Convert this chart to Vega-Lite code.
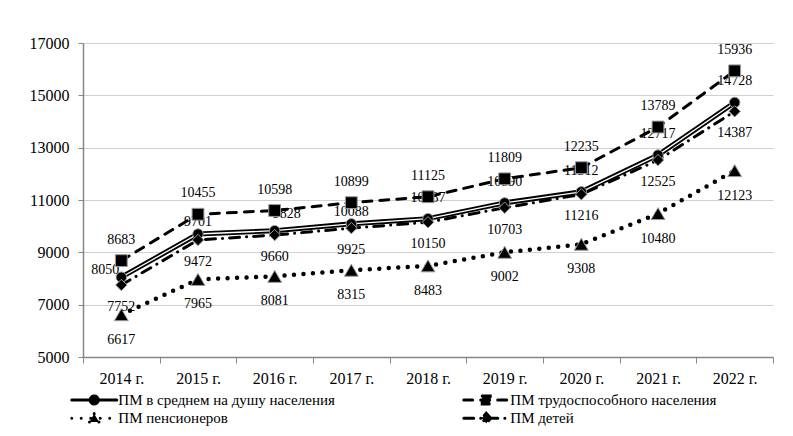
{
  "$schema": "https://vega.github.io/schema/vega-lite/v6.json",
  "width": 690,
  "height": 314,
  "autosize": {"type": "none"},
  "padding": {"left": 83, "top": 43, "right": 20, "bottom": 79},
  "config": {"view": {"stroke": null}, "font": "Liberation Serif"},
  "data": {"values": [
    {"year": "2014 г.", "series": "ПМ в среднем на душу населения", "value": 8050},
    {"year": "2015 г.", "series": "ПМ в среднем на душу населения", "value": 9701},
    {"year": "2016 г.", "series": "ПМ в среднем на душу населения", "value": 9828},
    {"year": "2017 г.", "series": "ПМ в среднем на душу населения", "value": 10088},
    {"year": "2018 г.", "series": "ПМ в среднем на душу населения", "value": 10287},
    {"year": "2019 г.", "series": "ПМ в среднем на душу населения", "value": 10890},
    {"year": "2020 г.", "series": "ПМ в среднем на душу населения", "value": 11312},
    {"year": "2021 г.", "series": "ПМ в среднем на душу населения", "value": 12717},
    {"year": "2022 г.", "series": "ПМ в среднем на душу населения", "value": 14728},
    {"year": "2014 г.", "series": "ПМ трудоспособного населения", "value": 8683},
    {"year": "2015 г.", "series": "ПМ трудоспособного населения", "value": 10455},
    {"year": "2016 г.", "series": "ПМ трудоспособного населения", "value": 10598},
    {"year": "2017 г.", "series": "ПМ трудоспособного населения", "value": 10899},
    {"year": "2018 г.", "series": "ПМ трудоспособного населения", "value": 11125},
    {"year": "2019 г.", "series": "ПМ трудоспособного населения", "value": 11809},
    {"year": "2020 г.", "series": "ПМ трудоспособного населения", "value": 12235},
    {"year": "2021 г.", "series": "ПМ трудоспособного населения", "value": 13789},
    {"year": "2022 г.", "series": "ПМ трудоспособного населения", "value": 15936},
    {"year": "2014 г.", "series": "ПМ пенсионеров", "value": 6617},
    {"year": "2015 г.", "series": "ПМ пенсионеров", "value": 7965},
    {"year": "2016 г.", "series": "ПМ пенсионеров", "value": 8081},
    {"year": "2017 г.", "series": "ПМ пенсионеров", "value": 8315},
    {"year": "2018 г.", "series": "ПМ пенсионеров", "value": 8483},
    {"year": "2019 г.", "series": "ПМ пенсионеров", "value": 9002},
    {"year": "2020 г.", "series": "ПМ пенсионеров", "value": 9308},
    {"year": "2021 г.", "series": "ПМ пенсионеров", "value": 10480},
    {"year": "2022 г.", "series": "ПМ пенсионеров", "value": 12123},
    {"year": "2014 г.", "series": "ПМ детей", "value": 7752},
    {"year": "2015 г.", "series": "ПМ детей", "value": 9472},
    {"year": "2016 г.", "series": "ПМ детей", "value": 9660},
    {"year": "2017 г.", "series": "ПМ детей", "value": 9925},
    {"year": "2018 г.", "series": "ПМ детей", "value": 10150},
    {"year": "2019 г.", "series": "ПМ детей", "value": 10703},
    {"year": "2020 г.", "series": "ПМ детей", "value": 11216},
    {"year": "2021 г.", "series": "ПМ детей", "value": 12525},
    {"year": "2022 г.", "series": "ПМ детей", "value": 14387}
  ]},
  "encoding": {
    "x": {
      "field": "year", "type": "nominal",
      "scale": {"type": "band", "paddingInner": 0, "paddingOuter": 0},
      "axis": {"title": null, "tickBand": "extent", "grid": false, "domainColor": "#868686", "domainWidth": 1.5, "tickColor": "#868686", "tickWidth": 1, "tickSize": 6, "labelFontSize": 16, "labelColor": "black", "labelPadding": 7, "labelAngle": 0, "labelFont": "Liberation Serif"}
    },
    "y": {
      "field": "value", "type": "quantitative",
      "scale": {"domain": [5000, 17000], "nice": false, "zero": false},
      "axis": {"title": null, "format": "d", "values": [5000, 7000, 9000, 11000, 13000, 15000, 17000], "grid": true, "gridColor": "#d0d0d0", "gridWidth": 1, "domainColor": "#868686", "domainWidth": 1.5, "tickColor": "#868686", "tickSize": 5, "labelFontSize": 16, "labelColor": "black", "labelPadding": 9, "labelFont": "Liberation Serif"}
    }
  },
  "layer": [
    {
      "mark": {"type": "line", "strokeCap": "round", "strokeJoin": "round", "color": "black", "strokeWidth": 3},
      "encoding": {
        "strokeDash": {
          "field": "series", "type": "nominal",
          "scale": {"domain": ["ПМ в среднем на душу населения", "ПМ трудоспособного населения", "ПМ пенсионеров", "ПМ детей"], "range": [[1, 0], [9, 8], [0, 9.5], [10, 7, 0.1, 7]]},
          "legend": {"title": null, "orient": "none", "legendX": -12.8, "legendY": 349, "columns": 2, "direction": "horizontal", "symbolSize": 100, "symbolStrokeWidth": 3, "symbolStrokeColor": "black", "symbolFillColor": "black", "symbolOpacity": 1, "symbolOffset": 16.5, "labelOffset": 16.6, "labelFontSize": 15, "labelFont": "Liberation Serif", "labelColor": "black", "clipHeight": 16, "rowPadding": 2.3, "columnPadding": 127, "padding": 0, "labelLimit": 400, "encode": {"symbols": {"update": {"strokeCap": {"value": "round"}}}}}
        }
      }
    },
    {
      "transform": [{"filter": {"field": "series", "equal": "ПМ в среднем на душу населения"}}],
      "mark": {"type": "line", "color": "black", "strokeWidth": 5, "strokeJoin": "round"},
      "encoding": {}
    },
    {
      "transform": [{"filter": {"field": "series", "equal": "ПМ в среднем на душу населения"}}],
      "mark": {"type": "line", "color": "white", "strokeWidth": 1.3},
      "encoding": {}
    },
    {
      "transform": [{"filter": {"field": "series", "equal": "ПМ пенсионеров"}}],
      "mark": {"type": "line", "color": "black", "strokeWidth": 4.5, "strokeCap": "round", "strokeDash": [0, 9.5]},
      "encoding": {}
    },
    {
      "mark": {"type": "point", "opacity": 0},
      "encoding": {
        "shape": {
          "field": "series", "type": "nominal",
          "scale": {"domain": ["ПМ в среднем на душу населения", "ПМ трудоспособного населения", "ПМ пенсионеров", "ПМ детей"], "range": [
            "M-4.5,0H4.5M-0.8,0A0.8,0.8,0,1,0,0.8,0A0.8,0.8,0,1,0,-0.8,0Z",
            "M-4.5,0H4.5M-0.8,-0.8H0.8V0.8H-0.8Z",
            "M-4.5,0H4.5M0,-0.9L0.95,0.75L-0.95,0.75Z",
            "M-4.5,0H4.5M0,-1L0.9,0L0,1L-0.9,0Z"
          ]},
          "legend": {"title": null, "orient": "none", "legendX": -12.8, "legendY": 349, "columns": 2, "direction": "horizontal", "symbolSize": 100, "symbolStrokeWidth": 3, "symbolStrokeColor": "black", "symbolFillColor": "black", "symbolOpacity": 1, "symbolOffset": 16.5, "labelOffset": 16.6, "labelFontSize": 15, "labelFont": "Liberation Serif", "labelColor": "black", "clipHeight": 16, "rowPadding": 2.3, "columnPadding": 127, "padding": 0, "labelLimit": 400, "encode": {"symbols": {"update": {"strokeCap": {"value": "round"}}}}}
        }
      }
    },
    {
      "transform": [{"filter": {"field": "series", "equal": "ПМ в среднем на душу населения"}}, {"filter": {"field": "year", "equal": "2014 г."}}],
      "mark": {"type": "text", "fontSize": 14, "font": "Liberation Serif", "color": "black", "align": "right", "dx": -2, "dy": -7},
      "encoding": {"text": {"field": "value", "type": "quantitative", "format": "d"}}
    },
    {
      "transform": [{"filter": {"field": "series", "equal": "ПМ в среднем на душу населения"}}, {"filter": {"field": "year", "oneOf": ["2015 г.", "2017 г."]}}],
      "mark": {"type": "text", "fontSize": 14, "font": "Liberation Serif", "color": "black", "dy": -12},
      "encoding": {"text": {"field": "value", "type": "quantitative", "format": "d"}}
    },
    {
      "transform": [{"filter": {"field": "series", "equal": "ПМ в среднем на душу населения"}}, {"filter": {"field": "year", "equal": "2016 г."}}],
      "mark": {"type": "text", "fontSize": 14, "font": "Liberation Serif", "color": "black", "dx": 12, "dy": -17},
      "encoding": {"text": {"field": "value", "type": "quantitative", "format": "d"}}
    },
    {
      "transform": [{"filter": {"field": "series", "equal": "ПМ в среднем на душу населения"}}, {"filter": {"field": "year", "oneOf": ["2018 г.", "2019 г.", "2020 г.", "2021 г.", "2022 г."]}}],
      "mark": {"type": "text", "fontSize": 14, "font": "Liberation Serif", "color": "black", "dy": -21},
      "encoding": {"text": {"field": "value", "type": "quantitative", "format": "d"}}
    },
    {
      "transform": [{"filter": {"field": "series", "equal": "ПМ в среднем на душу населения"}}],
      "mark": {"type": "point", "shape": "circle", "size": 110, "filled": true, "fill": "black", "stroke": "#999999", "strokeWidth": 1, "opacity": 1},
      "encoding": {}
    },
    {
      "transform": [{"filter": {"field": "series", "equal": "ПМ трудоспособного населения"}}],
      "mark": {"type": "point", "shape": "square", "size": 140, "filled": true, "fill": "black", "stroke": "#999999", "strokeWidth": 1, "opacity": 1},
      "encoding": {}
    },
    {
      "transform": [{"filter": {"field": "series", "equal": "ПМ пенсионеров"}}],
      "mark": {"type": "point", "shape": "triangle-up", "size": 190, "filled": true, "fill": "black", "stroke": "#999999", "strokeWidth": 1, "opacity": 1},
      "encoding": {}
    },
    {
      "transform": [{"filter": {"field": "series", "equal": "ПМ детей"}}],
      "mark": {"type": "point", "shape": "diamond", "size": 130, "filled": true, "fill": "black", "stroke": "#999999", "strokeWidth": 1, "opacity": 1},
      "encoding": {}
    },
    {
      "transform": [{"filter": {"field": "series", "equal": "ПМ трудоспособного населения"}}],
      "mark": {"type": "text", "fontSize": 14, "font": "Liberation Serif", "color": "black", "dy": -21},
      "encoding": {"text": {"field": "value", "type": "quantitative", "format": "d"}}
    },
    {
      "transform": [{"filter": {"field": "series", "equal": "ПМ пенсионеров"}}],
      "mark": {"type": "text", "fontSize": 14, "font": "Liberation Serif", "color": "black", "dy": 25},
      "encoding": {"text": {"field": "value", "type": "quantitative", "format": "d"}}
    },
    {
      "transform": [{"filter": {"field": "series", "equal": "ПМ детей"}}],
      "mark": {"type": "text", "fontSize": 14, "font": "Liberation Serif", "color": "black", "dy": 22},
      "encoding": {"text": {"field": "value", "type": "quantitative", "format": "d"}}
    }
  ]
}
